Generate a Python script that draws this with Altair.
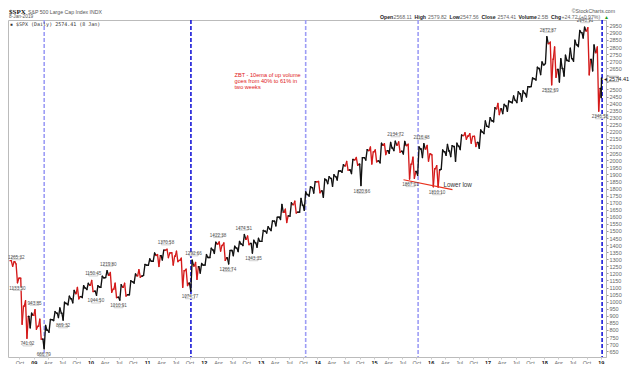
import altair as alt
import pandas as pd

# ---------------- data (monthly OHLC) ----------------
years_months = [(2008, m) for m in range(8, 13)] + \
    [(y, m) for y in range(2009, 2019) for m in range(1, 13)] + [(2019, 1)]

highs = [1290, 1266, 1167, 1007, 919,
         943.85, 876, 832, 875, 930, 956, 997, 1039, 1080, 1101, 1113, 1130,
         1150.45, 1113, 1180, 1219.80, 1206, 1131, 1120, 1130, 1148, 1196, 1227, 1263,
         1303, 1344, 1333, 1364, 1370.58, 1346, 1357, 1308, 1230, 1292.66, 1277, 1270,
         1333, 1378, 1420, 1422.38, 1415, 1363, 1392, 1426, 1474.51, 1464, 1434, 1448,
         1504, 1530, 1570, 1597, 1687, 1654, 1699, 1710, 1730, 1776, 1813, 1849,
         1850, 1867, 1884, 1897, 1924, 1968, 1992, 2005, 2019, 2018, 2075, 2093,
         2073, 2120, 2117, 2126, 2134.72, 2130, 2133, 2113, 2021, 2094, 2116.48, 2104,
         2038, 1962, 2072, 2111, 2103, 2120, 2178, 2194, 2188, 2169, 2214, 2278,
         2301, 2371, 2401, 2395, 2419, 2454, 2484, 2491, 2520, 2582, 2657, 2695,
         2872.87, 2835, 2801, 2718, 2743, 2792, 2848, 2917, 2940.91, 2937, 2815, 2800,
         2580]
lows = [1250, 1133.5, 840, 741.02, 815,
        805, 735, 666.79, 784, 866, 888, 869.32, 978, 992, 1020, 1029, 1086,
        1071, 1044.50, 1101, 1170, 1066, 1029, 1010.91, 1040, 1049, 1131, 1173, 1186,
        1257, 1285, 1249, 1295, 1311, 1259, 1283, 1101, 1114, 1074.77, 1158, 1202,
        1259, 1312, 1341, 1357, 1292, 1266.74, 1325, 1354, 1397, 1403, 1343.35, 1385,
        1426, 1485, 1502, 1536, 1581, 1560, 1605, 1627, 1633, 1646, 1746, 1768,
        1770, 1738, 1834, 1815, 1860, 1915, 1930, 1905, 1964, 1820.66, 2001, 1973,
        1988, 1981, 2040, 2048, 2068, 2056, 2044, 1867.01, 1872, 1893, 2019, 1993,
        1812, 1810.10, 1937, 2034, 2025, 1992, 2075, 2148, 2120, 2097, 2084, 2188,
        2233, 2271, 2322, 2329, 2345, 2405, 2407, 2417, 2447, 2520, 2567, 2605,
        2683, 2532.69, 2586, 2553, 2595, 2699, 2699, 2803, 2864, 2603, 2631, 2346.58,
        2443]
closes = [1282, 1166, 969, 896, 903,
          826, 735, 798, 873, 919, 919, 987, 1021, 1057, 1036, 1096, 1115,
          1074, 1104, 1169, 1187, 1089, 1031, 1102, 1049, 1141, 1183, 1181, 1258,
          1286, 1327, 1326, 1364, 1345, 1321, 1292, 1219, 1131, 1253, 1247, 1258,
          1312, 1366, 1408, 1398, 1310, 1362, 1379, 1407, 1441, 1412, 1416, 1426,
          1498, 1515, 1569, 1598, 1631, 1606, 1686, 1633, 1682, 1757, 1806, 1848,
          1783, 1859, 1872, 1884, 1924, 1960, 1931, 2003, 1972, 2018, 2068, 2059,
          1995, 2105, 2068, 2086, 2107, 2063, 2104, 1972, 1920, 2079, 2080, 2044,
          1940, 1932, 2060, 2065, 2097, 2099, 2174, 2171, 2168, 2126, 2199, 2239,
          2279, 2364, 2363, 2384, 2412, 2423, 2470, 2472, 2519, 2575, 2648, 2674,
          2824, 2714, 2641, 2648, 2705, 2718, 2816, 2902, 2914, 2712, 2760, 2507,
          2574.41]

# pivot labels
hi_label_dates = ["2008-09-10", "2009-01-06", "2010-01-19", "2010-04-26", "2011-05-02",
                  "2011-10-27", "2012-04-02", "2012-09-14", "2015-05-20", "2015-11-03",
                  "2018-01-26", "2018-09-21"]
hi_label_vals = [1265.32, 943.85, 1150.45, 1219.80, 1370.58, 1292.66, 1422.38, 1474.51,
                 2134.72, 2116.48, 2872.87, 2940.91]
lo_label_dates = ["2008-09-18", "2008-11-21", "2009-03-06", "2009-07-08", "2010-02-05",
                  "2010-07-01", "2011-10-04", "2012-06-04", "2012-11-16", "2014-10-15",
                  "2015-08-24", "2016-02-11", "2018-02-09", "2018-12-26"]
lo_label_vals = [1133.50, 741.02, 666.79, 869.32, 1044.50, 1010.91, 1074.77, 1266.74,
                 1343.35, 1820.66, 1867.01, 1810.10, 2532.69, 2346.58]

# dashed vertical markers
vline_dates = ["2009-03-09", "2011-10-10", "2013-10-18", "2015-10-12", "2019-01-09"]
vline_kind = ["light", "dark", "light", "light", "dark"]

# "lower low" trend line
ll_dates = ["2015-07-10", "2016-05-20"]
ll_vals = [1862, 1792]

y_ticks = list(range(650, 2951, 50))
y_hidden_labels = [2550, 2600]   # hidden under the last-price tag
x_tick_months = [(y, m) for y in range(2008, 2020) for m in (1, 4, 7, 10)
                 if (2008, 10) <= (y, m) <= (2019, 1)]

last_close = 2574.41

# ---------------- frames: each month drawn as an open-extreme-extreme-close path ----------------
pts = []
for i, (yy, mm) in enumerate(years_months):
    o = closes[i - 1] if i > 0 else highs[0]
    up = closes[i] >= o
    seq = [o, lows[i], highs[i], closes[i]] if up else [o, highs[i], lows[i], closes[i]]
    days = [1, 3, 5, 8] if (yy, mm) == (2019, 1) else [1, 9, 18, 27]
    for d, v in zip(days, seq):
        pts.append((f"{yy}-{mm:02d}-{d:02d}", v, "up" if up else "down"))
seg_rows = []
for a, b in zip(pts[:-1], pts[1:]):
    seg_rows.append({"d1": a[0], "v1": a[1], "d2": b[0], "v2": b[1], "dir": b[2]})
seg_df = pd.DataFrame(seg_rows)

hi_df = pd.DataFrame({"date": hi_label_dates, "v": hi_label_vals})
hi_df["txt"] = [f"{v:.2f}" for v in hi_label_vals]
lo_df = pd.DataFrame({"date": lo_label_dates, "v": lo_label_vals})
lo_df["txt"] = [f"{v:.2f}" for v in lo_label_vals]
vl_df = pd.DataFrame({"date": vline_dates, "kind": vline_kind})
ll_df = pd.DataFrame({"date": ll_dates, "v": ll_vals})

W, H = 598, 337
FONT = "Liberation Sans"

xs = alt.Scale(type="utc",
               domain=[alt.DateTime(year=2008, month=7, date=19, utc=True),
                       alt.DateTime(year=2019, month=2, date=3, utc=True)])
ys = alt.Scale(domain=[609, 2991], nice=False, zero=False)

xaxis = alt.Axis(
    values=[alt.DateTime(year=y, month=m, date=1, utc=True) for (y, m) in x_tick_months],
    labelExpr="utcmonth(datum.value) == 0 ? utcFormat(datum.value, '%y') : utcFormat(datum.value, '%b')",
    labelFontWeight={"condition": {"test": "utcmonth(datum.value) == 0", "value": "bold"}, "value": "normal"},
    labelColor={"condition": {"test": "utcmonth(datum.value) == 0", "value": "#111"}, "value": "#666"},
    labelFontSize=5.5, labelFont=FONT, labelPadding=1, labelOverlap=False,
    tickSize=2, tickColor="#ccc", domain=False, grid=False, title=None)
hidden_test = " || ".join(f"datum.value == {v}" for v in y_hidden_labels)
yaxis = alt.Axis(orient="right", values=y_ticks,
                 labelExpr=f"({hidden_test}) ? '' : format(datum.value, 'd')",
                 labelFontSize=5.5, labelFont=FONT,
                 labelColor="#666", labelPadding=1, tickSize=2, tickColor="#999",
                 domainColor="#bbb", labelOverlap=False, grid=False, title=None)


def X(f="date"):
    return alt.X(f"{f}:T", scale=xs, axis=xaxis)


def Y(f):
    return alt.Y(f"{f}:Q", scale=ys, axis=yaxis)


one = alt.Data(values=[{}])

vlines = alt.Chart(vl_df).mark_rule(strokeDash=[4, 2], strokeWidth=1.6).encode(
    x=X(),
    stroke=alt.Stroke("kind:N", scale=alt.Scale(domain=["light", "dark"],
                                                range=["#9d9df5", "#1a1ad8"]), legend=None))

price = alt.Chart(seg_df).mark_rule(strokeWidth=1.35, strokeCap="round").encode(
    x=X("d1"), x2="d2:T", y=Y("v1"), y2="v2:Q",
    color=alt.Color("dir:N", scale=alt.Scale(domain=["up", "down"], range=["#111111", "#d41a1a"]),
                    legend=None))

box_shape = "M-1,-0.36H1V0.36H-1Z"
hi_box = alt.Chart(hi_df).mark_point(shape=box_shape, size=81, filled=True, fill="white",
                                     stroke="#b0b0b0", strokeWidth=0.6, opacity=1,
                                     yOffset=-6).encode(x=X(), y=Y("v"))
hi_txt = alt.Chart(hi_df).mark_text(fontSize=4.6, font=FONT, color="#555",
                                    yOffset=-6).encode(x=X(), y=Y("v"), text="txt:N")
lo_box = alt.Chart(lo_df).mark_point(shape=box_shape, size=81, filled=True, fill="white",
                                     stroke="#b0b0b0", strokeWidth=0.6, opacity=1,
                                     yOffset=6).encode(x=X(), y=Y("v"))
lo_txt = alt.Chart(lo_df).mark_text(fontSize=4.6, font=FONT, color="#555",
                                    yOffset=6).encode(x=X(), y=Y("v"), text="txt:N")

ll_line = alt.Chart(ll_df).mark_line(color="#e8301c", strokeWidth=1.1).encode(x=X(), y=Y("v"))
ll_text = alt.Chart(one).mark_text(fontSize=6.3, font=FONT, color="#333", align="left",
                                   baseline="middle").encode(
    x=alt.X("d:T", scale=xs, axis=xaxis), y=alt.Y("v:Q", scale=ys, axis=yaxis),
    text=alt.value("Lower low")).transform_calculate(d="utc(2016,2,24)", v="1826")

zbt = alt.Chart(one).mark_text(fontSize=5.6, font=FONT, color="#e02020", align="left",
                               baseline="top", lineHeight=5.8).encode(
    x=alt.X("d:T", scale=xs, axis=xaxis), y=alt.Y("v:Q", scale=ys, axis=yaxis),
    text=alt.value(["ZBT - 10ema of up volume", "goes from 40% to 61% in", "two weeks"])
).transform_calculate(d="utc(2012,6,17)", v="2614")

# price tag on the right axis
tag_box = alt.Chart(one).mark_point(shape="M0,-0.6H2.55V0.6H0Z", size=81, filled=True,
                                    fill="white", stroke="#888", strokeWidth=0.7,
                                    opacity=1).encode(
    x=alt.value(W + 1), y=alt.Y("v:Q", scale=ys, axis=yaxis)).transform_calculate(v=str(last_close))
tag_txt = alt.Chart(one).mark_text(fontSize=5.6, font=FONT, color="#222", align="left",
                                   baseline="middle").encode(
    x=alt.value(W + 3), y=alt.Y("v:Q", scale=ys, axis=yaxis),
    text=alt.value(f"{last_close:.2f}")).transform_calculate(v=str(last_close))
tag_arrow = alt.Chart(one).mark_text(fontSize=6, color="#222", align="right",
                                     baseline="middle").encode(
    x=alt.value(W + 1), y=alt.Y("v:Q", scale=ys, axis=yaxis),
    text=alt.value("◂")).transform_calculate(v=str(last_close))


def label(txt, x, y, size=5.2, bold=False, color="#444", align="left", font=FONT):
    return alt.Chart(one).mark_text(fontSize=size, font=font, color=color, align=align,
                                    baseline="middle",
                                    fontWeight="bold" if bold else "normal").encode(
        x=alt.value(x), y=alt.value(y), text=alt.value(txt))


header = [
    label("$SPX", 1, -8.5, size=7, bold=True, color="#111", font="Liberation Serif"),
    label("S&P 500 Large Cap Index INDX", 20, -8.5, size=5.2, color="#555"),
    label("8-Jan-2019", 1, -3, size=4.8, color="#555"),
    label("©StockCharts.com", 607, -9.5, size=5.2, color="#555", align="right"),
    label("▪ $SPX (Daily) 2574.41 (8 Jan)", 2, 4, size=5, color="#333", font="DejaVu Sans Mono"),
]
segs = [("Open", 372, True), ("2568.11", 385.5, False), ("High", 406.5, True),
        ("2579.82", 420, False), ("Low", 441.5, True), ("2547.56", 452, False),
        ("Close", 473.5, True), ("2574.41", 489.5, False), ("Volume", 510.5, True),
        ("2.5B", 529.5, False), ("Chg", 543, True), ("+24.72 (+0.97%)", 553.5, False)]
for t, x, b in segs:
    header.append(label(t, x, -3.5, size=5.2, bold=b, color="#222" if b else "#666"))
header.append(label("▲", 596, -3.5, size=5, color="#1a9a1a"))

chart = alt.layer(vlines, price, ll_line, hi_box, hi_txt, lo_box, lo_txt,
                  ll_text, zbt, tag_box, tag_txt, tag_arrow, *header).resolve_scale(
    color="independent", stroke="independent"
).properties(
    width=W, height=H,
    padding={"left": 0, "top": 12, "right": 26, "bottom": 7},
    autosize=alt.AutoSizeParams(type="none"),
    background="white",
).configure_view(stroke="#bbb", strokeWidth=1)

chart.save("out.html", embed_options={"renderer": "svg", "actions": False})
